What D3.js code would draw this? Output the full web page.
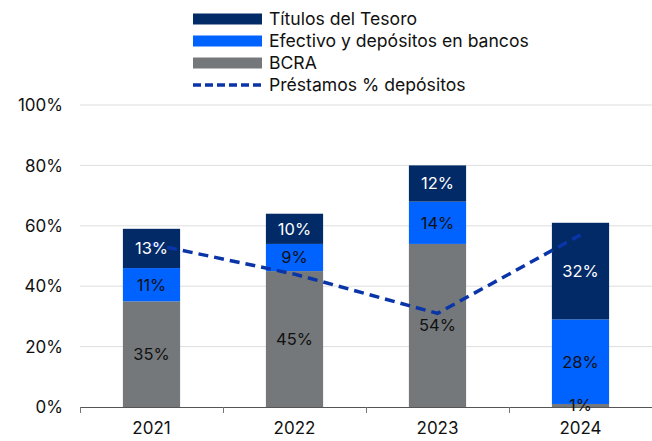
<!DOCTYPE html>
<html>
<head>
<meta charset="utf-8">
<script src="https://cdn.jsdelivr.net/npm/d3@7/dist/d3.min.js"></script>
<style>
  body { margin: 0; background: #fff; }
  svg text { font-family: Inter, "Noto Sans", sans-serif; }
</style>
</head>
<body>
<div id="chart"></div>
<script>
// data
const years = ["2021", "2022", "2023", "2024"];
const bcra = [35, 45, 54, 1];
const efectivo = [11, 9, 14, 28];
const titulos = [13, 10, 12, 32];
const prestamos = [54, 44, 31, 57];
const yTicks = [0, 20, 40, 60, 80, 100];

const seriesNames = ["BCRA", "Efectivo y depósitos en bancos", "Títulos del Tesoro"];
const seriesValues = [bcra, efectivo, titulos];
const colors = ["#74787b", "#0062ff", "#022a66"];
const labelColors = ["#111", "#111", "#fff"];
const lineColor = "#0a35a8";

const width = 652;
const height = 441;
const margin = { top: 105, right: 0, bottom: 34, left: 80 };

const svg = d3.select("#chart")
  .append("svg")
  .attr("width", width)
  .attr("height", height);

const x = d3.scaleBand()
  .domain(years)
  .range([margin.left, width])
  .paddingInner(0.6)
  .paddingOuter(0.3);

const y = d3.scaleLinear()
  .domain([0, 100])
  .range([407, margin.top]);

// gridlines
svg.append("g")
  .selectAll("line")
  .data(yTicks.filter(d => d > 0))
  .enter()
  .append("line")
  .attr("x1", margin.left)
  .attr("x2", width)
  .attr("y1", d => y(d))
  .attr("y2", d => y(d))
  .attr("stroke", "#dedede")
  .attr("stroke-width", 1);

// y tick labels
svg.append("g")
  .selectAll("text")
  .data(yTicks)
  .enter()
  .append("text")
  .attr("x", 63)
  .attr("y", d => y(d))
  .attr("dy", "0.36em")
  .attr("text-anchor", "end")
  .style("font-size", "17px")
  .attr("fill", "#111")
  .text(d => d + "%");

// stacked table built from the arrays
const table = years.map((yr, i) => {
  const row = { year: yr };
  seriesNames.forEach((s, j) => { row[s] = seriesValues[j][i]; });
  return row;
});
const stacked = d3.stack().keys(seriesNames)(table);

const layers = svg.append("g")
  .selectAll("g")
  .data(stacked)
  .enter()
  .append("g")
  .attr("fill", (d, i) => colors[i]);

layers.selectAll("rect")
  .data(d => d)
  .enter()
  .append("rect")
  .attr("x", d => x(d.data.year))
  .attr("width", x.bandwidth())
  .attr("y", d => y(d[1]))
  .attr("height", d => y(d[0]) - y(d[1]));

// x axis
const xAxis = d3.axisBottom(x).tickSize(0).tickPadding(15).tickFormat(d => d);
const gx = svg.append("g")
  .attr("transform", `translate(0, ${y(0)})`)
  .call(xAxis);
gx.select(".domain").remove();
gx.selectAll("text")
  .style("font-size", "17px")
  .style("font-family", "Inter, 'Noto Sans', sans-serif")
  .attr("fill", "#111");

svg.append("line")
  .attr("x1", margin.left)
  .attr("x2", width)
  .attr("y1", y(0) + 0.5)
  .attr("y2", y(0) + 0.5)
  .attr("stroke", "#555")
  .attr("stroke-width", 1);

// ticks between categories
const step = x.step();
const bounds = d3.range(years.length).map(i => margin.left + i * step);
svg.append("g")
  .selectAll("line")
  .data(bounds)
  .enter()
  .append("line")
  .attr("x1", d => Math.round(d) + 0.5)
  .attr("x2", d => Math.round(d) + 0.5)
  .attr("y1", y(0))
  .attr("y2", y(0) + 6)
  .attr("stroke", "#777")
  .attr("stroke-width", 1);

// dashed line
const line = d3.line()
  .x((d, i) => x(years[i]) + x.bandwidth() / 2)
  .y(d => y(d));

svg.append("path")
  .datum(prestamos)
  .attr("d", line)
  .attr("fill", "none")
  .attr("stroke", lineColor)
  .attr("stroke-width", 3.5)
  .attr("stroke-dasharray", "10,6");

// segment labels, on top of everything
const labelGroup = svg.append("g");
stacked.forEach((layer, j) => {
  labelGroup.append("g")
    .selectAll("text")
    .data(layer)
    .enter()
    .append("text")
    .attr("x", d => x(d.data.year) + x.bandwidth() / 2)
    .attr("y", d => y((d[0] + d[1]) / 2))
    .attr("dy", "0.36em")
    .attr("text-anchor", "middle")
    .style("font-size", "16.5px")
    .attr("fill", labelColors[j])
    .text(d => (d[1] - d[0]) + "%");
});

// legend
const legendItems = [
  { name: "Títulos del Tesoro", color: colors[2], type: "rect" },
  { name: "Efectivo y depósitos en bancos", color: colors[1], type: "rect" },
  { name: "BCRA", color: colors[0], type: "rect" },
  { name: "Préstamos % depósitos", color: lineColor, type: "line" }
];

const legend = svg.append("g");
const legendRows = legend.selectAll("g")
  .data(legendItems)
  .enter()
  .append("g")
  .attr("transform", (d, i) => `translate(193, ${19 + i * 22})`);

legendRows.filter(d => d.type === "rect")
  .append("rect")
  .attr("x", 0)
  .attr("y", -5.5)
  .attr("width", 69)
  .attr("height", 11)
  .attr("fill", d => d.color);

legendRows.filter(d => d.type === "line")
  .append("line")
  .attr("x1", 0)
  .attr("x2", 69)
  .attr("y1", 0)
  .attr("y2", 0)
  .attr("stroke", d => d.color)
  .attr("stroke-width", 3.5)
  .attr("stroke-dasharray", "8,4");

legendRows.append("text")
  .attr("x", 76)
  .attr("y", 0)
  .attr("dy", "0.36em")
  .style("font-size", "17.6px")
  .attr("fill", "#111")
  .text(d => d.name);
</script>
</body>
</html>
